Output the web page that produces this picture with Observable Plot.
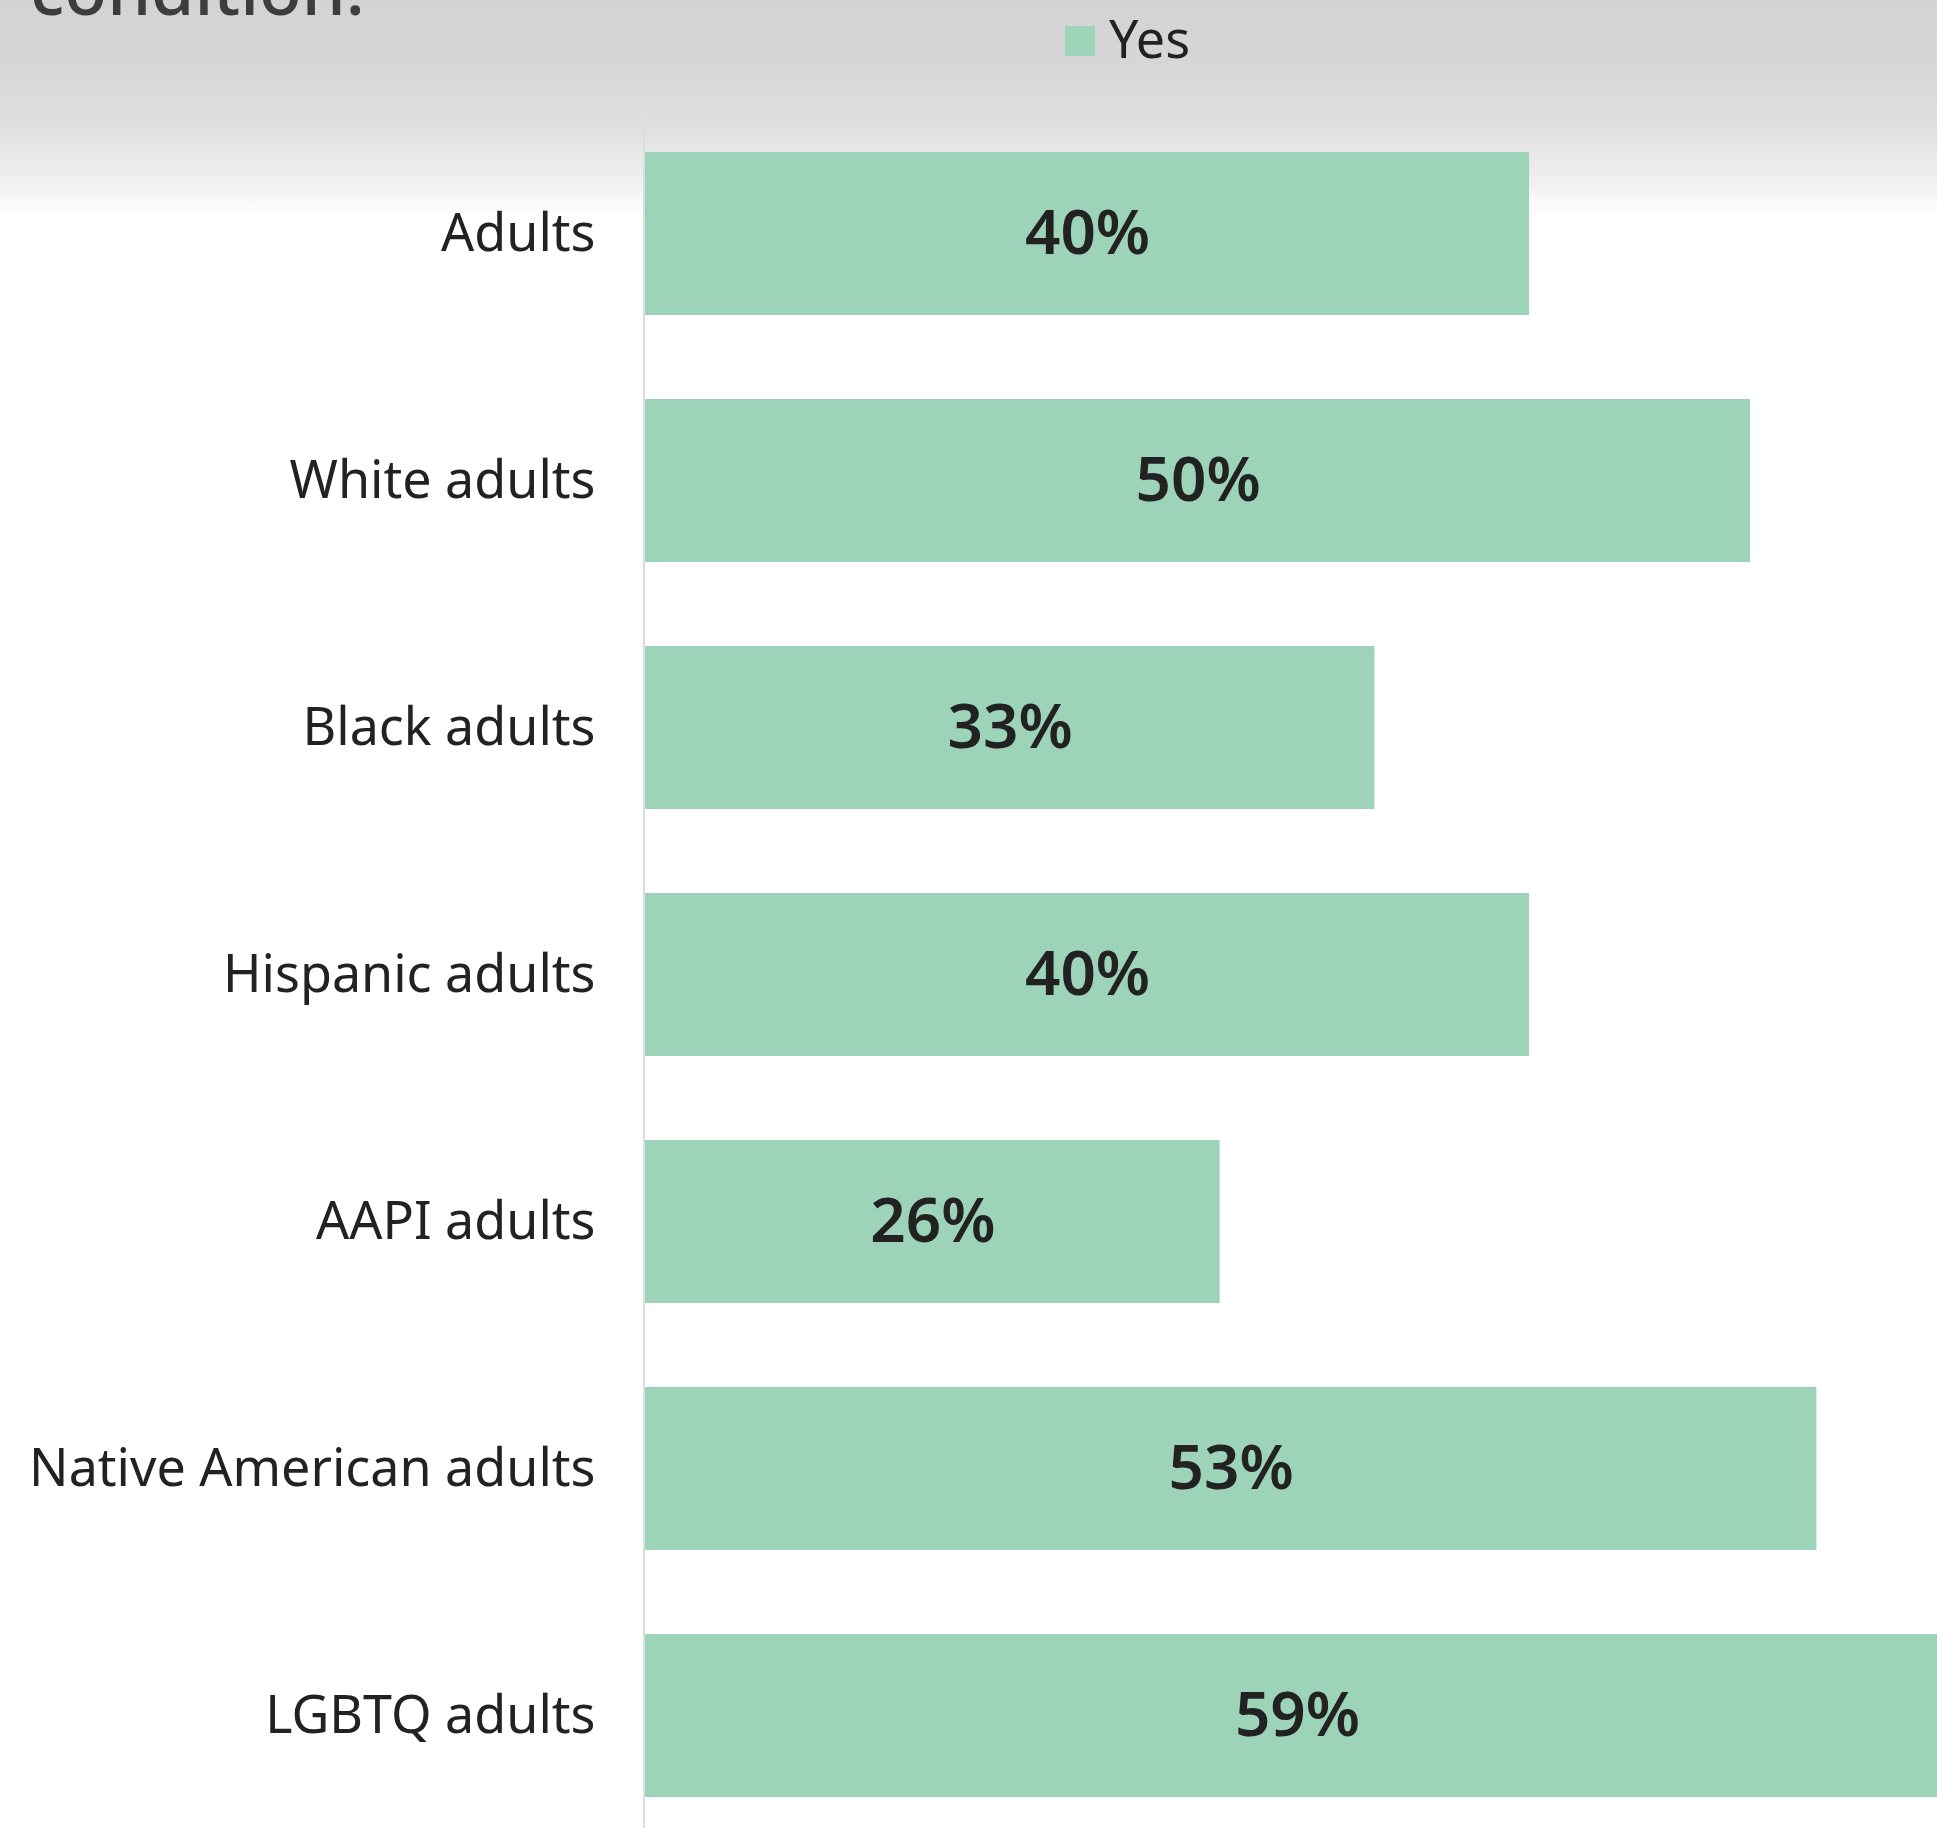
<!DOCTYPE html>
<html>
<head>
<meta charset="utf-8">
<script src="https://cdn.jsdelivr.net/npm/d3@7"></script>
<script src="https://cdn.jsdelivr.net/npm/@observablehq/plot@0.6"></script>
<style>
  html, body { margin: 0; padding: 0; }
  body {
    width: 1937px; height: 1828px; overflow: hidden; position: relative;
    font-family: "Noto Sans", sans-serif;
    background: linear-gradient(to bottom, #d3d3d3 0px, #d7d7d7 70px, #e0e0e0 130px, #eeeeee 175px, #fafafa 205px, #ffffff 220px);
  }
  #header { position: relative; height: 108px; }
  #title { position: absolute; left: 30px; top: -47px; font-size: 70px; color: #3d3d3d; font-weight: 500; white-space: nowrap; line-height: 1; }
  #legend { position: absolute; left: 1065px; top: 2px; display: flex; align-items: center; font-size: 52px; color: #222; }
  #legend .sw { width: 30px; height: 30px; background: #9dd3b9; margin-right: 14px; margin-top: 6px; }
  #chart svg { display: block; }
</style>
</head>
<body>
<div id="header">
  <div id="title">condition.</div>
  <div id="legend"><span class="sw"></span><span>Yes</span></div>
</div>
<div id="chart"></div>
<script>
const categories = ["Adults", "White adults", "Black adults", "Hispanic adults", "AAPI adults", "Native American adults", "LGBTQ adults"];
const values = [40, 50, 33, 40, 26, 53, 59];
const barColor = "#9dd3b9";

const data = categories.map((c, i) => ({category: c, value: values[i]}));

const chart = Plot.plot({
  width: 1937,
  height: 1720,
  marginTop: 3,
  marginBottom: 0,
  marginLeft: 645,
  marginRight: 0,
  style: {fontFamily: "Noto Sans", background: "transparent", color: "#222", overflow: "hidden"},
  x: {domain: [0, 59], range: [645, 1949], axis: null},
  y: {domain: categories, range: [0.5, 1732.8], paddingInner: 0.34, paddingOuter: 0.17, label: null},
  marks: [
    Plot.barX(data, {y: "category", x: "value", fill: barColor}),
    Plot.ruleX([0], {dx: -1.5, stroke: "#dddddd", strokeWidth: 2}),
    Plot.text(data, {y: "category", x: d => d.value / 2, text: d => d.value + "%", fontSize: 62, fontWeight: 600, fill: "#222"}),
    Plot.axisY({tickSize: 0, tickPadding: 50, fontSize: 52, fill: "#222", label: null})
  ]
});
document.getElementById("chart").appendChild(chart);
</script>
</body>
</html>
